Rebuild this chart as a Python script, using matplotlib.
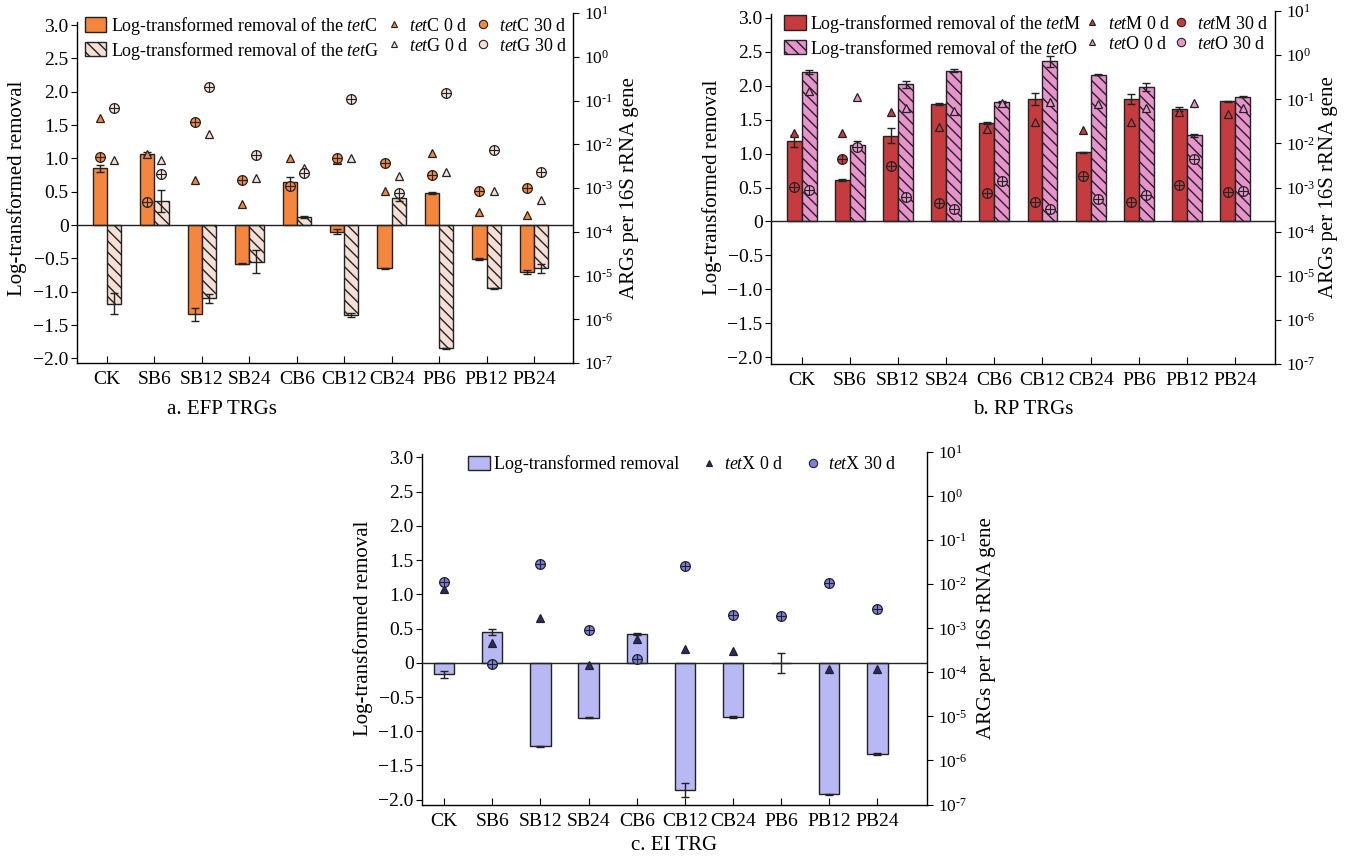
import numpy as np
import matplotlib
matplotlib.use("Agg")
import matplotlib.pyplot as plt
from matplotlib.lines import Line2D
from matplotlib.patches import Patch
from matplotlib.ticker import FixedLocator, FuncFormatter

# ------------ data ------------
categories = ["CK", "SB6", "SB12", "SB24", "CB6", "CB12", "CB24", "PB6", "PB12", "PB24"]

# a. EFP TRGs (bars = log-transformed removal, markers = log10 ARGs per 16S rRNA gene)
tetC_removal = [0.85, 1.07, -1.34, -0.58, 0.65, -0.10, -0.65, 0.48, -0.51, -0.71]
tetC_err = [0.05, 0.02, 0.10, 0.01, 0.07, 0.04, 0.01, 0.02, 0.01, 0.03]
tetG_removal = [-1.18, 0.36, -1.10, -0.55, 0.12, -1.35, 0.40, -1.85, -0.95, -0.65]
tetG_err = [0.16, 0.16, 0.07, 0.17, 0.02, 0.03, 0.04, 0.01, 0.01, 0.07]
tetC_0d = [-1.41, -2.23, -2.81, -3.37, -2.31, -2.37, -3.07, -2.20, -3.54, -3.62]
tetC_30d = [-2.28, -3.31, -1.49, -2.81, -2.96, -2.32, -2.43, -2.70, -3.07, -2.99]
tetG_0d = [-2.35, -2.35, -1.76, -2.78, -2.55, -2.31, -2.72, -2.64, -3.07, -3.28]
tetG_30d = [-1.18, -2.69, -0.68, -2.25, -2.66, -0.97, -3.12, -0.83, -2.14, -2.64]

# b. RP TRGs
tetM_removal = [1.18, 0.61, 1.26, 1.73, 1.45, 1.80, 1.02, 1.80, 1.65, 1.77]
tetM_err = [0.09, 0.01, 0.11, 0.01, 0.01, 0.09, 0.01, 0.07, 0.03, 0.01]
tetO_removal = [2.20, 1.12, 2.02, 2.22, 1.76, 2.36, 2.16, 1.98, 1.27, 1.84]
tetO_err = [0.03, 0.06, 0.05, 0.02, 0.02, 0.08, 0.01, 0.06, 0.02, 0.01]
tetM_0d = [-1.76, -1.76, -1.28, -1.63, -1.67, -1.51, -1.70, -1.51, -1.28, -1.33]
tetM_30d = [-2.99, -2.36, -2.51, -3.36, -3.13, -3.33, -2.74, -3.33, -2.94, -3.10]
tetO_0d = [-0.82, -0.94, -1.19, -1.27, -1.08, -1.07, -1.10, -1.19, -1.08, -1.20]
tetO_30d = [-3.05, -2.08, -3.22, -3.49, -2.86, -3.49, -3.26, -3.17, -2.36, -3.08]

# c. EI TRG
tetX_removal = [-0.17, 0.45, -1.22, -0.80, 0.42, -1.86, -0.79, 0.0, -1.92, -1.33]
tetX_err = [0.05, 0.04, 0.01, 0.01, 0.02, 0.10, 0.01, 0.15, 0.01, 0.01]
tetX_0d = [-2.12, -3.33, -2.77, -3.84, -3.25, -3.47, -3.52, np.nan, -3.92, -3.92]
tetX_30d = [-1.96, -3.80, -1.54, -3.05, -3.70, -1.59, -2.71, -2.72, -1.98, -2.57]

# ------------ style ------------
plt.rcParams.update({
    "font.family": ["Liberation Serif", "DejaVu Serif"],
    "mathtext.fontset": "custom",
    "mathtext.rm": "Liberation Serif",
    "mathtext.it": "Liberation Serif:italic",
    "font.size": 13,
    "hatch.linewidth": 1.0,
    "axes.linewidth": 1.0,
})

ORANGE = "#F4863E"
PEACH = "#F6E0D6"
RED = "#C63C3E"
PINK = "#E794CC"
LAVENDER = "#B8B8F4"
VIOLET = "#7C7CE0"
NAVY = "#2A2A6A"
EDGE = "#222222"
TICK_FS = 14
LOG_TICK_FS = 12.5
LABEL_FS = 15
LEG_FS = 13
CAP_FS = 15

x = np.arange(len(categories))


def log_label(v, p):
    k = int(round(np.log10(v)))
    if k < 0:
        return r"$10^{\text{-%d}}$" % (-k)
    return r"$10^{%d}$" % k


def setup(ax, ylim, xlim):
    ax.set_xlim(*xlim)
    ax.set_ylim(*ylim)
    ax.axhline(0, color=EDGE, lw=1.0, zorder=3)
    ax.spines["top"].set_visible(False)
    ax.spines["right"].set_visible(False)
    ax.spines["left"].set_bounds(ylim[0], 3.05)
    ax.set_yticks([-2.0, -1.5, -1.0, -0.5, 0, 0.5, 1.0, 1.5, 2.0, 2.5, 3.0])
    ax.set_yticklabels(["\u22122.0", "\u22121.5", "\u22121.0", "\u22120.5", "0",
                        "0.5", "1.0", "1.5", "2.0", "2.5", "3.0"])
    ax.set_xticks(x)
    ax.set_xticklabels(categories)
    ax.tick_params(axis="y", direction="out", length=4, labelsize=TICK_FS, pad=2)
    ax.tick_params(axis="x", direction="in", length=5, labelsize=TICK_FS, pad=6)
    ax.set_ylabel("Log-transformed removal", fontsize=LABEL_FS)

    tw = ax.twinx()
    tw.set_yscale("log")
    tw.set_ylim(1e-7, 1e1)
    for s in ("top", "left", "bottom"):
        tw.spines[s].set_visible(False)
    tw.yaxis.set_major_locator(FixedLocator([10.0 ** k for k in range(-7, 2)]))
    tw.yaxis.set_minor_locator(FixedLocator([]))
    tw.yaxis.set_major_formatter(FuncFormatter(log_label))
    tw.tick_params(axis="y", direction="out", length=4, labelsize=LOG_TICK_FS, pad=4)
    tw.set_ylabel("ARGs per 16S rRNA gene", fontsize=LABEL_FS)
    return tw


def bars(ax, pos, vals, errs, width, color, hatch=None):
    ax.bar(pos, vals, width, color=color, edgecolor=EDGE, linewidth=1.0,
           hatch=hatch, zorder=2)
    ax.errorbar(pos, vals, yerr=errs, fmt="none", ecolor=EDGE, elinewidth=1.0,
                capsize=3, capthick=1.0, zorder=4)


def points(tw, pos, logvals, marker, face, size):
    vals = np.power(10.0, np.array(logvals, dtype=float))
    tw.plot(pos, vals, linestyle="none", marker=marker, markersize=size,
            markerfacecolor=face, markeredgecolor=EDGE, markeredgewidth=0.9, zorder=5)
    if marker == "o":
        tw.plot(pos, vals, linestyle="none", marker="+", markersize=size,
                markeredgecolor=EDGE, markeredgewidth=0.8, zorder=6)


def tri(face):
    return Line2D([], [], linestyle="none", marker="^", markersize=5,
                  markerfacecolor=face, markeredgecolor=EDGE, markeredgewidth=0.8)


def circ(face):
    return Line2D([], [], linestyle="none", marker="o", markersize=6,
                  markerfacecolor=face, markeredgecolor=EDGE, markeredgewidth=0.8)


LEG_KW = dict(frameon=False, fontsize=LEG_FS, borderaxespad=0, borderpad=0.1,
              handlelength=1.2, handleheight=0.85, handletextpad=0.25,
              labelspacing=0.15)

fig = plt.figure(figsize=(13.46, 8.58), dpi=100)
W, H = 1346, 858

# ------------ a. EFP TRGs ------------
ax_a = fig.add_axes([77 / W, 1 - 363 / H, 496 / W, 350 / H])
tw_a = setup(ax_a, (-2.07, 3.18), (-0.63, 9.82))
bw = 0.30
bars(ax_a, x - bw / 2, tetC_removal, tetC_err, bw, ORANGE)
bars(ax_a, x + bw / 2, tetG_removal, tetG_err, bw, PEACH, hatch="\\\\\\")
points(tw_a, x - bw / 2, tetC_0d, "^", ORANGE, 5.5)
points(tw_a, x - bw / 2, tetC_30d, "o", ORANGE, 7)
points(tw_a, x + bw / 2, tetG_0d, "^", PEACH, 5.5)
points(tw_a, x + bw / 2, tetG_30d, "o", PEACH, 7)
ax_a.yaxis.set_label_coords(-0.100, 0.5)
tw_a.yaxis.set_label_coords(1.095, 0.5)
h_a = [Patch(facecolor=ORANGE, edgecolor=EDGE),
       Patch(facecolor=PEACH, edgecolor=EDGE, hatch="\\\\\\"),
       tri(ORANGE), tri(PEACH), circ(ORANGE), circ(PEACH)]
l_a = [r"Log-transformed removal of the $\mathit{tet}$C",
       r"Log-transformed removal of the $\mathit{tet}$G",
       r"$\mathit{tet}$C 0 d", r"$\mathit{tet}$G 0 d",
       r"$\mathit{tet}$C 30 d", r"$\mathit{tet}$G 30 d"]
tw_a.legend(h_a, l_a, ncol=3, loc="upper left", bbox_to_anchor=(0.012, 1.0),
            columnspacing=0.2, **LEG_KW)
fig.text(222 / W, 1 - 409 / H, "a. EFP TRGs", ha="center", va="center", fontsize=CAP_FS)

# ------------ b. RP TRGs ------------
ax_b = fig.add_axes([771 / W, 1 - 364 / H, 504 / W, 353 / H])
tw_b = setup(ax_b, (-2.10, 3.10), (-0.64, 9.83))
bw = 0.31
bars(ax_b, x - bw / 2, tetM_removal, tetM_err, bw, RED)
bars(ax_b, x + bw / 2, tetO_removal, tetO_err, bw, PINK, hatch="\\\\\\")
points(tw_b, x - bw / 2, tetM_0d, "^", RED, 5.5)
points(tw_b, x - bw / 2, tetM_30d, "o", RED, 7)
points(tw_b, x + bw / 2, tetO_0d, "^", PINK, 5.5)
points(tw_b, x + bw / 2, tetO_30d, "o", PINK, 7)
ax_b.yaxis.set_label_coords(-0.097, 0.5)
tw_b.yaxis.set_label_coords(1.087, 0.5)
h_b = [Patch(facecolor=RED, edgecolor=EDGE),
       Patch(facecolor=PINK, edgecolor=EDGE, hatch="\\\\\\"),
       tri(RED), tri(PINK), circ(RED), circ(PINK)]
l_b = [r"Log-transformed removal of the $\mathit{tet}$M",
       r"Log-transformed removal of the $\mathit{tet}$O",
       r"$\mathit{tet}$M 0 d", r"$\mathit{tet}$O 0 d",
       r"$\mathit{tet}$M 30 d", r"$\mathit{tet}$O 30 d"]
tw_b.legend(h_b, l_b, ncol=3, loc="upper left", bbox_to_anchor=(0.022, 1.0),
            columnspacing=0.0, **LEG_KW)
fig.text(1023 / W, 1 - 409 / H, "b. RP TRGs", ha="center", va="center", fontsize=CAP_FS)

# ------------ c. EI TRG ------------
ax_c = fig.add_axes([422 / W, 1 - 804.5 / H, 505 / W, 352.5 / H])
tw_c = setup(ax_c, (-2.07, 3.08), (-0.46, 10.03))
bars(ax_c, x, tetX_removal, tetX_err, 0.42, LAVENDER)
points(tw_c, x, tetX_0d, "^", NAVY, 5.5)
points(tw_c, x, tetX_30d, "o", VIOLET, 7)
ax_c.yaxis.set_label_coords(-0.097, 0.5)
tw_c.yaxis.set_label_coords(1.099, 0.5)
h_c = [Patch(facecolor=LAVENDER, edgecolor=EDGE), tri(NAVY), circ(VIOLET)]
l_c = ["Log-transformed removal", r"$\mathit{tet}$X 0 d", r"$\mathit{tet}$X 30 d"]
tw_c.legend(h_c, l_c, ncol=3, loc="upper left", bbox_to_anchor=(0.088, 0.995),
            columnspacing=1.0, **LEG_KW)
fig.text(674 / W, 1 - 845 / H, "c. EI TRG", ha="center", va="center", fontsize=CAP_FS)

fig.savefig("out.png", dpi=100)
